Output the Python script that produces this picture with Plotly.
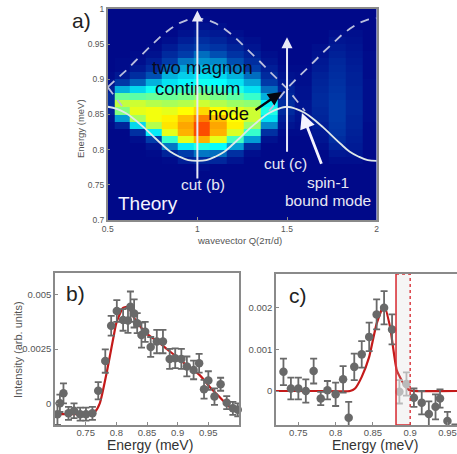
import plotly.graph_objects as go

W, H = 457, 454
FONT = "Liberation Sans"
GRAY = "#8a8a8a"
TICK = "#555555"

# ---------- panel a data ----------
q_edges = [0.5, 0.541, 0.624, 0.714, 0.803, 0.892, 0.981, 1.07, 1.165, 1.26, 1.355, 1.45, 1.544, 1.639, 1.734, 1.829, 1.924, 2.0]
e_edges = [0.70, 0.71, 0.72, 0.73, 0.74, 0.75, 0.76, 0.77, 0.78, 0.79, 0.80, 0.81, 0.82, 0.83, 0.84, 0.85,
           0.86, 0.87, 0.88, 0.89, 0.90, 0.91, 0.92, 0.93, 0.94, 0.95, 0.96, 0.97, 0.98, 0.99, 1.00]
# each list: intensity in the column, from E=0.70 up to E=0.99
c00 = [.03,.03,.03,.03,.03,.03,.03,.03,.03,.03,.03,.03,.03,.04,.06,.10,.14,.14,.10,.06,.04,.03,.03,.03,.03,.03,.03,.03,.03,.03]
c01 = [.03,.03,.03,.03,.03,.03,.03,.03,.03,.03,.03,.03,.03,.12,.30,.50,.55,.48,.32,.18,.08,.04,.04,.03,.03,.03,.03,.03,.03,.03]
c02 = [.03,.03,.03,.03,.03,.03,.03,.03,.03,.03,.03,.05,.16,.36,.53,.58,.56,.47,.36,.24,.15,.08,.05,.04,.03,.03,.03,.03,.03,.03]
c03 = [.03,.03,.03,.03,.03,.03,.03,.03,.03,.04,.07,.20,.38,.54,.59,.59,.54,.48,.41,.32,.22,.15,.10,.06,.04,.03,.03,.03,.03,.03]
c04 = [.03,.03,.03,.03,.03,.03,.03,.03,.04,.12,.26,.44,.58,.62,.61,.58,.53,.48,.43,.37,.32,.25,.20,.14,.09,.05,.03,.03,.03,.03]
c05 = [.03,.03,.03,.03,.03,.03,.03,.03,.10,.20,.38,.58,.66,.67,.65,.60,.54,.49,.44,.39,.35,.31,.26,.20,.15,.10,.06,.04,.03,.03]
c06 = [.03,.03,.03,.03,.03,.03,.03,.05,.14,.26,.42,.66,.74,.74,.70,.63,.56,.51,.46,.41,.37,.33,.29,.25,.20,.15,.10,.06,.04,.03]
c07 = [.03,.03,.03,.03,.03,.03,.03,.03,.13,.25,.40,.58,.66,.67,.65,.60,.54,.49,.44,.40,.36,.32,.28,.22,.17,.12,.08,.05,.03,.03]
c08 = [.03,.03,.03,.03,.03,.03,.03,.03,.07,.16,.30,.45,.57,.61,.60,.58,.52,.47,.42,.37,.32,.27,.22,.17,.12,.08,.05,.03,.03,.03]
c09 = [.03,.03,.03,.03,.03,.03,.03,.03,.03,.05,.14,.30,.44,.52,.56,.56,.51,.44,.37,.31,.25,.20,.15,.11,.07,.05,.03,.03,.03,.03]
c10 = [.03,.03,.03,.03,.03,.03,.03,.03,.03,.03,.03,.06,.16,.28,.37,.42,.39,.32,.25,.19,.14,.10,.07,.05,.03,.03,.03,.03,.03,.03]
c11 = [.03,.03,.03,.03,.03,.03,.03,.03,.03,.03,.03,.03,.04,.07,.10,.14,.15,.13,.11,.08,.06,.04,.03,.03,.03,.03,.03,.03,.03,.03]
c12 = [.03,.03,.03,.03,.03,.03,.03,.03,.03,.03,.03,.03,.04,.05,.06,.07,.07,.06,.06,.05,.05,.04,.03,.03,.03,.03,.03,.03,.03,.03]
c13 = [.03,.03,.03,.03,.03,.03,.03,.03,.03,.03,.05,.07,.08,.10,.12,.13,.14,.14,.13,.12,.11,.09,.08,.06,.05,.03,.03,.03,.03,.03]
c14 = [.03,.03,.03,.03,.03,.03,.03,.03,.05,.08,.12,.15,.17,.18,.19,.19,.19,.18,.17,.16,.15,.14,.13,.11,.09,.07,.05,.03,.03,.03]
c15 = [.03,.03,.03,.03,.03,.03,.03,.03,.05,.07,.09,.10,.11,.12,.12,.13,.13,.12,.12,.11,.11,.10,.09,.08,.07,.06,.05,.03,.03,.03]
c16 = [.03,.03,.03,.03,.03,.03,.03,.03,.03,.03,.04,.04,.04,.04,.05,.05,.05,.05,.05,.05,.04,.04,.04,.04,.03,.03,.03,.03,.03,.03]
columns = [c00, c01, c02, c03, c04, c05, c06, c07, c08, c09, c10, c11, c12, c13, c14, c15, c16]

q_low = [.5,.55,.6,.65,.7,.75,.8,.85,.9,.95,1.0,1.05,1.1,1.15,1.2,1.25,1.3,1.35,1.4,1.45,1.5,1.55,1.6,1.65,1.7,1.75,1.8,1.85,1.9,1.95,2.0]
e_low = [.861,.858,.852,.843,.832,.820,.808,.797,.790,.785,.784,.785,.790,.797,.808,.820,.832,.843,.852,.858,.861,.858,.852,.843,.832,.820,.808,.797,.790,.785,.784]
q_up1 = [.5,.55,.6,.65,.7,.75,.8,.85,.9,.95,1.0,1.05,1.1,1.15,1.2,1.25,1.3,1.35,1.4,1.45,1.5,1.55,1.6]
e_up1 = [.889,.900,.912,.925,.938,.950,.962,.972,.980,.985,.987,.985,.980,.972,.962,.950,.938,.925,.912,.900,.887,.871,.855]
q_up2 = [1.4,1.45,1.5,1.55,1.6,1.65,1.7,1.75,1.8,1.85,1.9,1.95,2.0]
e_up2 = [.855,.871,.887,.900,.912,.925,.938,.950,.962,.972,.980,.985,.987]
q_up3 = [.5,.55,.58]
e_up3 = [.889,.872,.862]

# ---------- panel b data ----------
b_x = [.704,.708,.7138,.722,.731,.741,.7505,.761,.7705,.782,.7916,.8008,.811,.819,.823,.829,.834,.841,.847,.856,.866,.876,.887,.896,.906,.915,.926,.935,.943,.95,.96,.97,.98,.99,.998]
b_y = [-.0005,0,.00046,-.00046,-.00034,-.0005,-.0005,-.00046,.00058,.00195,.00358,.00426,.00385,.00382,.00446,.00415,.0037,.00315,.0033,.0026,.00285,.00285,.00205,.00208,.00205,.0017,.00154,.00185,.00065,.00105,.00031,.00088,.00003,-.00023,-.0003]
b_e = [.0005,.0004,.00046,.0003,.00034,.0003,.0003,.0003,.0004,.00054,.00046,.0005,.0005,.00057,.0007,.00065,.00046,.00058,.00046,.00046,.00054,.00054,.00046,.00046,.00046,.00046,.00043,.00043,.00043,.00043,.00038,.0003,.0003,.0003,.0003]
b_fit_x = [.70,.72,.74,.76,.765,.773,.784,.795,.80,.811,.819,.83,.849,.865,.881,.898,.914,.936,.952,.968,.984,1.0]
b_fit_y = [-.0005,-.0005,-.0005,-.00048,-.0004,0,.00138,.003,.0037,.0044,.00445,.0039,.00323,.0029,.00254,.00215,.00177,.0013,.00077,.0003,-.00015,-.0004]

# ---------- panel c data ----------
c_x = [.73,.74,.75,.76,.7705,.78,.789,.80,.81,.8175,.825,.835,.845,.855,.865,.8757,.905,.9155,.925,.934,.94,.95,.96]
c_y = [.00046,.00006,.00006,0,.00048,-.00018,.00002,-.00008,.00028,-.00064,.00058,.00088,.0013,.00184,.002,.00148,-.00016,-.00028,-.00055,-.00038,-.00018,-.00072,-.0009]
c_e = [.00032,.00026,.00026,.00028,.0003,.00016,.00022,.00028,.00032,.00038,.00032,.00032,.00034,.00036,.0004,.00036,.00022,.00028,.0003,.0003,.00022,.00022,.0001]
c2_x = [.8855,.895]
c2_y = [-.00002,.00017]
c2_e = [.00028,.00028]
c_fit_x = [.72,.78,.8193,.826,.835,.845,.855,.865,.873,.882,.891,.899,.904,.963]
c_fit_y = [0,0,0,.00006,.00034,.00082,.00162,.00206,.00154,.0005,.00018,.00002,0,0]

fig = go.Figure()
z = [list(r) for r in zip(*columns)]
fig.add_trace(go.Heatmap(x=q_edges, y=e_edges, z=z, colorscale="Jet", zmin=0, zmax=1, showscale=False,
                         xaxis="x", yaxis="y"))
fig.add_trace(go.Scatter(x=q_low, y=e_low, mode="lines", line=dict(color="#dfe8e8", width=1.8, shape="spline"),
                         xaxis="x", yaxis="y", showlegend=False))
for qq, ee in ((q_up1, e_up1), (q_up2, e_up2), (q_up3, e_up3)):
    fig.add_trace(go.Scatter(x=qq, y=ee, mode="lines", line=dict(color="#b9bedd", width=1.8, dash="9px,7px"),
                             xaxis="x", yaxis="y", showlegend=False))

DOT = "#696969"
def err_trace(x, y, e, ax, ay, color=DOT):
    return go.Scatter(x=x, y=y, mode="markers", marker=dict(color=color, size=8.5),
                      error_y=dict(type="data", array=e, color=color, thickness=1.8, width=3.5),
                      xaxis=ax, yaxis=ay, showlegend=False)

RED = "#c41a1a"
fig.add_trace(go.Scatter(x=b_fit_x, y=b_fit_y, mode="lines", line=dict(color=RED, width=2.2, shape="spline", smoothing=0.6),
                         xaxis="x2", yaxis="y2", showlegend=False))
fig.add_trace(err_trace(b_x, b_y, b_e, "x2", "y2"))
fig.data[-1].cliponaxis = False

fig.add_trace(go.Scatter(x=c_fit_x, y=c_fit_y, mode="lines", line=dict(color=RED, width=2.2, shape="spline", smoothing=0.5),
                         xaxis="x3", yaxis="y3", showlegend=False))
fig.add_trace(err_trace(c_x, c_y, c_e, "x3", "y3"))
fig.add_trace(err_trace(c2_x, c2_y, c2_e, "x3", "y3", color="#b8b8b8"))

def dom_x(a, b):
    return [a / W, b / W]
def dom_y(top, bottom):
    return [1 - bottom / H, 1 - top / H]

axis_common = dict(automargin=False, showgrid=False, zeroline=False, ticks="inside", ticklen=3, tickcolor=GRAY, tickwidth=1,
                   linecolor=GRAY, showline=True, linewidth=1.5, tickfont=dict(family=FONT, size=9.5, color=TICK))

fig.update_layout(
    width=W, height=H, margin=dict(l=0, r=0, t=0, b=0), paper_bgcolor="white", plot_bgcolor="white",
    font=dict(family=FONT), showlegend=False,
    xaxis=dict(axis_common, domain=dom_x(107.7, 376.7), range=[.5, 2], tickvals=[.5, 1, 1.5, 2],
               ticktext=["0.5", "1", "1.5", "2"], mirror=True, tickfont=dict(family=FONT, size=8.5, color=TICK)),
    yaxis=dict(axis_common, domain=dom_y(9, 220), range=[.7, 1], tickvals=[.7, .75, .8, .85, .9, .95, 1],
               ticktext=["0.7", "0.75", "0.8", "0.85", "0.9", "0.95", "1"], mirror=True,
               tickfont=dict(family=FONT, size=8.5, color=TICK)),
    xaxis2=dict(axis_common, anchor="y2", domain=dom_x(55, 239), range=[.7, 1], tickvals=[.75, .8, .85, .9, .95],
                ticktext=["0.75", "0.8", "0.85", "0.9", "0.95"], mirror=True, ticklabelstandoff=-2),
    yaxis2=dict(axis_common, anchor="x2", domain=dom_y(273.3, 425), range=[-.001, .006], tickvals=[0, .0025, .005],
                ticktext=["0", "0.0025", "0.005"], mirror=True),
    xaxis3=dict(axis_common, anchor="y3", domain=dom_x(276, 457), range=[.72, .9628], tickvals=[.75, .8, .85, .9, .95],
                ticktext=["0.75", "0.8", "0.85", "0.9", "0.95"], mirror=True, ticklabelstandoff=-2),
    yaxis3=dict(axis_common, anchor="x3", domain=dom_y(274, 425), range=[-.000816, .00281], tickvals=[0, .001, .002],
                ticktext=["0", "0.001", "0.002"], mirror=False),
)

# cut window in panel c
win_l, win_r, win_b, win_t = .881, .900, -.000816, .00281
fig.add_shape(type="rect", xref="x3", yref="y3", x0=win_l, x1=win_r, y0=win_b, y1=win_t,
              fillcolor="rgba(200,200,200,0.18)", line=dict(width=0), layer="above")
fig.add_shape(type="line", xref="x3", yref="y3", x0=win_l, x1=win_l, y0=win_b, y1=win_t, line=dict(color="#d9343a", width=1.6))
fig.add_shape(type="line", xref="x3", yref="y3", x0=win_l, x1=win_r, y0=win_b, y1=win_b, line=dict(color="#d9343a", width=1.6))
fig.add_shape(type="line", xref="x3", yref="y3", x0=win_r, x1=win_r, y0=win_b, y1=win_t, line=dict(color="#d9343a", width=1.4, dash="dot"))
fig.add_shape(type="line", xref="x3", yref="y3", x0=win_l, x1=win_r, y0=win_t, y1=win_t, line=dict(color="#d9343a", width=1.4, dash="dot"))

def label(text, px, py, size, color="#222222", angle=0):
    fig.add_annotation(text=text, x=px / W, y=1 - py / H, xref="paper", yref="paper", showarrow=False,
                       xanchor="center", yanchor="middle", textangle=angle,
                       font=dict(family=FONT, size=size, color=color))

label("a)", 81, 20, 21)
label("b)", 75, 293, 21)
label("c)", 298, 295, 21)
label("two magnon", 202, 67, 18.5, "#0a0a20")
label("continuum", 197, 89, 18.5, "#0a0a20")
label("node", 228, 114, 18.5, "#0a0a10")
label("Theory", 148, 203, 19, "#f4f4ff")
label("cut (b)", 203, 184, 15.5, "#e8e8f4")
label("cut (c)", 285, 163, 15.5, "#e8e8f4")
label("spin-1", 328, 182, 15.5, "#e8e8f4")
label("bound mode", 328, 200, 15.5, "#e8e8f4")
label("Energy (meV)", 80, 129, 9.5, "#555555", -90)
label("wavevector Q(2π/d)", 239, 240, 9.5, "#555555")
label("Intensity (arb. units)", 18, 350, 11, "#555555", -90)
label("Energy (meV)", 150, 445, 14, "#333333")
label("Energy (meV)", 375, 445, 14, "#333333")

def arrow(x0, y0, x1, y1, color, width):
    fig.add_annotation(x=x1, y=y1, ax=x0, ay=y0, xref="x", yref="y", axref="x", ayref="y", text="", showarrow=True,
                       arrowhead=2, arrowsize=1.1, arrowwidth=width, arrowcolor=color)

arrow(1.0, .757, 1.0, .998, "#e8e8f6", 2)
arrow(1.5, .795, 1.5, .96, "#e8e8f6", 2)
arrow(1.316, .855, 1.471, .882, "#050510", 2.5)
arrow(1.695, .778, 1.583, .852, "#f4f4ff", 2.8)

fig.write_html("out.html", config=dict(displayModeBar=False),
               post_script="document.body.style.margin='0';document.documentElement.style.overflow='hidden';")
